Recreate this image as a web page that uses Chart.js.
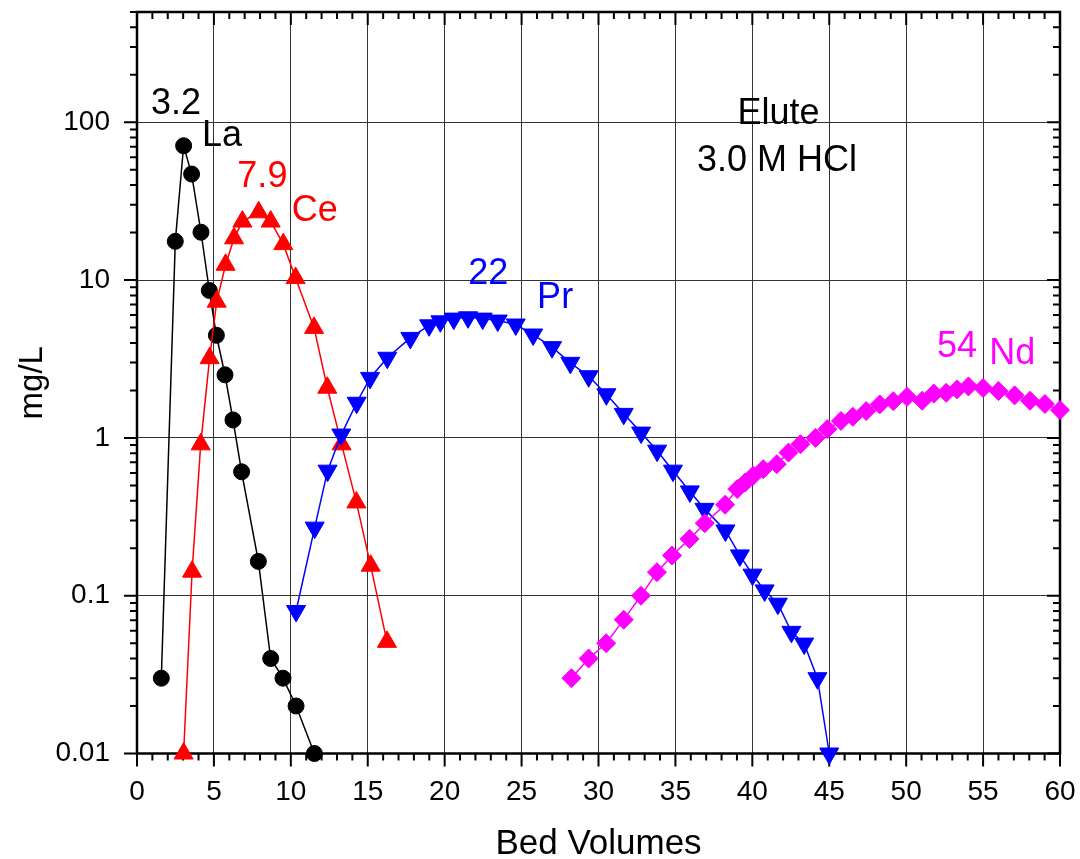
<!DOCTYPE html>
<html>
<head>
<meta charset="utf-8">
<script src="https://cdn.jsdelivr.net/npm/chart.js@4.4.0/dist/chart.umd.min.js"></script>
<style>
  html, body { margin: 0; padding: 0; background: #fff; }
</style>
</head>
<body>
<canvas id="elution-chart" width="1080" height="859"></canvas>
<script>
// bed volumes / concentration (mg/L)
var laX = [1.58, 2.49, 3.03, 3.55, 4.16, 4.70, 5.16, 5.72, 6.24, 6.80, 7.89, 8.69, 9.49, 10.34, 11.53];
var laY = [0.030, 17.6, 71, 47, 20.1, 8.6, 4.47, 2.51, 1.30, 0.61, 0.165, 0.040, 0.030, 0.020, 0.010];

var ceX = [3.03, 3.58, 4.14, 4.72, 5.18, 5.76, 6.31, 6.85, 7.91, 8.69, 9.51, 10.31, 11.51, 12.37, 13.30, 14.26, 15.19, 16.25];
var ceY = [0.010, 0.142, 0.91, 3.2, 7.3, 12.5, 18.4, 23.5, 26.9, 23.5, 16.9, 10.3, 4.98, 2.08, 0.91, 0.39, 0.155, 0.051];

var prX = [10.34, 11.55, 12.39, 13.28, 14.28, 15.15, 16.27, 17.77, 18.99, 19.72, 20.59, 21.52, 22.47, 23.45, 24.62, 25.75, 26.98, 28.17,
           29.36, 30.51, 31.64, 32.77, 33.81, 34.84, 35.94, 36.89, 38.25, 39.19, 40.01, 40.80, 41.66, 42.54, 43.37, 44.23, 45.0];
var prY = [0.080, 0.27, 0.62, 1.05, 1.67, 2.40, 3.22, 4.3, 5.17, 5.48, 5.70, 5.81, 5.70, 5.54, 5.23, 4.52, 3.76, 2.99,
           2.46, 1.89, 1.42, 1.08, 0.83, 0.62, 0.458, 0.355, 0.259, 0.18, 0.136, 0.108, 0.089, 0.059, 0.0497, 0.030, 0.010];

var ndX = [28.24, 29.36, 30.5, 31.64, 32.76, 33.80, 34.78, 35.92, 36.91, 38.23, 39.02, 39.54, 40.05, 40.71, 41.59, 42.35, 43.13, 44.11,
           44.88, 45.76, 46.53, 47.40, 48.28, 49.16, 50.06, 51.04, 51.8, 52.6, 53.3, 54.05, 55.0, 56.0, 57.05, 58.05, 59.02, 60.0];
var ndY = [0.030, 0.040, 0.050, 0.0705, 0.10, 0.141, 0.18, 0.229, 0.288, 0.377, 0.474, 0.522, 0.575, 0.634, 0.682, 0.807, 0.912, 1.0,
           1.135, 1.28, 1.36, 1.48, 1.63, 1.71, 1.82, 1.72, 1.91, 1.93, 2.03, 2.12, 2.07, 1.98, 1.86, 1.72, 1.64, 1.50];

var xTicks = [0, 5, 10, 15, 20, 25, 30, 35, 40, 45, 50, 55, 60];
var yTicks = [0.01, 0.1, 1, 10, 100];
var yTickLabels = ['0.01', '0.1', '1', '10', '100'];

// peak labels and the eluent note, anchored in data units
var noteText = ['3.2', 'La', '7.9', 'Ce', '22', 'Pr', '54', 'Nd', 'Elute', '3.0 M HCl'];
var noteX = [2.54, 5.53, 8.15, 11.56, 22.83, 27.18, 53.3, 56.9, 41.7, 41.6];
var noteY = [131, 81.8, 44.9, 27.5, 10.9, 7.7, 3.77, 3.38, 112, 56.9];
var noteColor = ['#000', '#000', '#ff0000', '#ff0000', '#0000ff', '#0000ff', '#ff00ff', '#ff00ff', '#000', '#000'];

var FONT = 'Arial, "Liberation Sans", sans-serif';

function pairs(xs, ys) {
    return xs.map(function(x, i) { return {x: x, y: ys[i]}; });
}

// box around the plot plus major/minor ticks (bottom/left outward, top/right inward)
var frameTicks = {
    id: 'frameTicks',
    beforeDatasetsDraw: function(chart) {
        var ctx = chart.ctx, a = chart.chartArea, xs = chart.scales.x, ys = chart.scales.y;
        ctx.save();
        ctx.strokeStyle = '#000';
        ctx.lineWidth = 2;
        ctx.beginPath();
        for (var v = 0; v <= 60; v++) {
            var px = xs.getPixelForValue(v);
            var len = v % 5 === 0 ? 13 : 7;
            ctx.moveTo(px, a.bottom); ctx.lineTo(px, a.bottom + len);
            ctx.moveTo(px, a.top); ctx.lineTo(px, a.top + len);
        }
        yTicks.forEach(function(d) {
            for (var k = 1; k <= 9; k++) {
                var val = d * k;
                if (val > 500) break;
                var py = ys.getPixelForValue(val);
                var l = k === 1 ? 13 : 7;
                ctx.moveTo(a.left, py); ctx.lineTo(a.left - l, py);
                ctx.moveTo(a.right, py); ctx.lineTo(a.right - l, py);
            }
        });
        ctx.stroke();
        ctx.lineWidth = 2.5;
        ctx.strokeRect(a.left, a.top, a.right - a.left, a.bottom - a.top);
        ctx.restore();
    }
};

var notes = {
    id: 'notes',
    afterDatasetsDraw: function(chart) {
        var ctx = chart.ctx, xs = chart.scales.x, ys = chart.scales.y;
        ctx.save();
        ctx.font = '36px ' + FONT;
        ctx.textAlign = 'center';
        ctx.textBaseline = 'middle';
        noteText.forEach(function(t, i) {
            ctx.fillStyle = noteColor[i];
            ctx.fillText(t, xs.getPixelForValue(noteX[i]), ys.getPixelForValue(noteY[i]));
        });
        ctx.restore();
    }
};

new Chart(document.getElementById('elution-chart'), {
    type: 'scatter',
    data: {
        datasets: [{
            label: 'La',
            data: pairs(laX, laY),
            showLine: true,
            borderColor: '#000',
            backgroundColor: '#000',
            borderWidth: 1.5,
            pointStyle: 'circle',
            pointRadius: 8,
            pointBorderWidth: 1,
            clip: false,
            order: 4
        }, {
            label: 'Ce',
            data: pairs(ceX, ceY),
            showLine: true,
            borderColor: '#ff0000',
            backgroundColor: '#ff0000',
            borderWidth: 1.5,
            pointStyle: 'triangle',
            pointRadius: 11,
            pointBorderWidth: 1,
            clip: false,
            order: 3
        }, {
            label: 'Pr',
            data: pairs(prX, prY),
            showLine: true,
            borderColor: '#0000ff',
            backgroundColor: '#0000ff',
            borderWidth: 1.5,
            pointStyle: 'triangle',
            pointRotation: 180,
            pointRadius: 11,
            pointBorderWidth: 1,
            clip: false,
            order: 2
        }, {
            label: 'Nd',
            data: pairs(ndX, ndY),
            showLine: true,
            borderColor: '#ff00ff',
            backgroundColor: '#ff00ff',
            borderWidth: 1.5,
            pointStyle: 'rectRot',
            pointRadius: 9.5,
            pointBorderWidth: 1,
            clip: false,
            order: 1
        }]
    },
    options: {
        responsive: false,
        animation: false,
        layout: { padding: { top: 12, right: 20, left: 0, bottom: 0 } },
        plugins: {
            legend: { display: false },
            tooltip: { enabled: false }
        },
        scales: {
            x: {
                type: 'linear',
                min: 0,
                max: 60,
                afterBuildTicks: function(s) { s.ticks = xTicks.map(function(v) { return {value: v}; }); },
                afterFit: function(s) {
                    s.height = 105.5;
                    s.paddingLeft = 0;
                    s.paddingRight = 0;
                },
                border: { display: false },
                grid: { color: '#333', lineWidth: 1, drawTicks: false },
                ticks: {
                    color: '#000',
                    font: { family: FONT, size: 28 },
                    padding: 22,
                    maxRotation: 0,
                    autoSkip: false
                },
                title: {
                    display: true,
                    text: 'Bed Volumes',
                    color: '#000',
                    font: { family: FONT, size: 35, lineHeight: 0.86 },
                    padding: 0
                }
            },
            y: {
                type: 'logarithmic',
                min: 0.01,
                max: 500,
                afterBuildTicks: function(s) { s.ticks = yTicks.map(function(v) { return {value: v}; }); },
                afterFit: function(s) {
                    s.width = 137;
                    s.paddingTop = 0;
                    s.paddingBottom = 0;
                },
                border: { display: false },
                grid: { color: '#333', lineWidth: 1, drawTicks: false },
                ticks: {
                    color: '#000',
                    font: { family: FONT, size: 28 },
                    padding: 27,
                    autoSkip: false,
                    callback: function(v, i) { return yTickLabels[i]; }
                },
                title: {
                    display: true,
                    text: 'mg/L',
                    color: '#000',
                    font: { family: FONT, size: 33 },
                    padding: { top: 13, bottom: 0 }
                }
            }
        }
    },
    plugins: [frameTicks, notes]
});
</script>
</body>
</html>
